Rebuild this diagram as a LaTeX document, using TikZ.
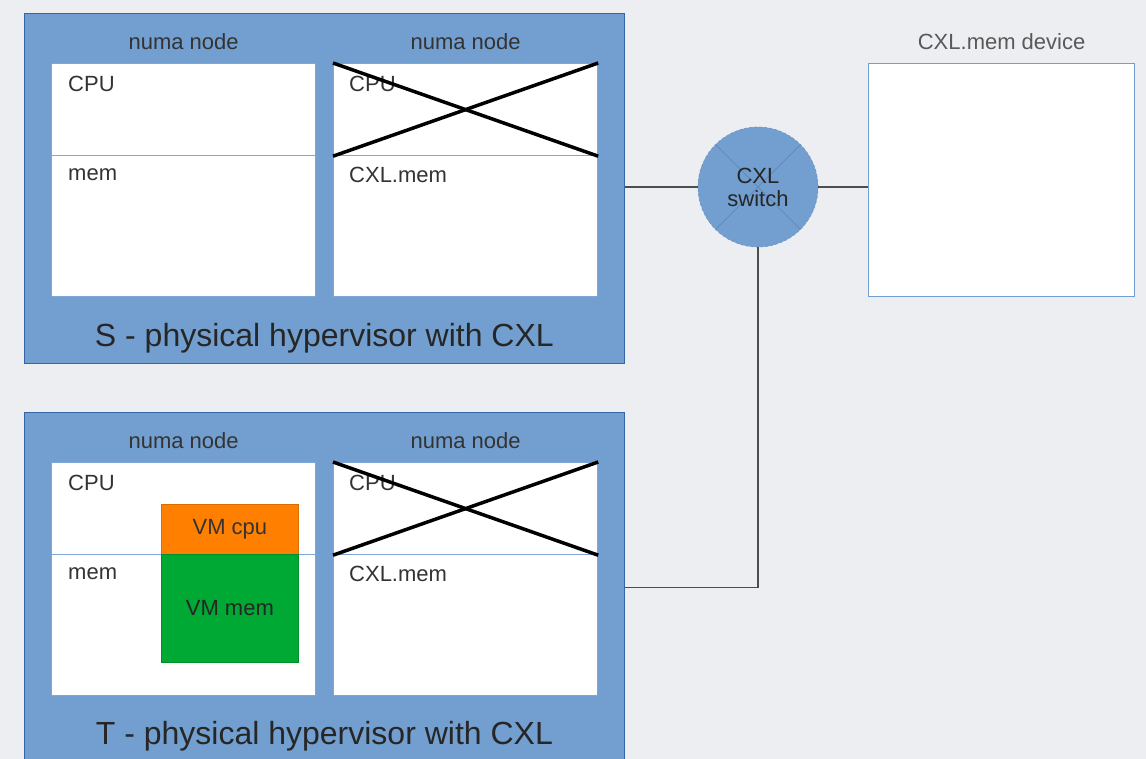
\documentclass[tikz,border=0pt]{standalone}
\usepackage{fontspec}
\setmainfont{Liberation Sans}
\definecolor{bg}{HTML}{ECEEF1}
\definecolor{hostblue}{HTML}{729FCF}
\definecolor{hostedge}{HTML}{3465A4}
\definecolor{numaedge}{HTML}{7FA6D4}
\definecolor{txt}{HTML}{333333}
\definecolor{vmcpu}{HTML}{FF8000}
\definecolor{vmmem}{HTML}{00A933}
\definecolor{wire}{HTML}{4D4D4D}
\begin{document}
\begin{tikzpicture}[x=1pt,y=-1pt,
  host/.style={draw=hostedge, fill=hostblue, line width=0.8pt, anchor=north west, inner sep=0pt, minimum width=600pt},
  part/.style={draw=numaedge, fill=white, line width=1.2pt, anchor=north west, inner sep=0pt, minimum width=264pt},
  lbl/.style={font=\fontsize{22}{25}\selectfont, text=txt, inner sep=0pt},
  ttl/.style={font=\fontsize{32}{36}\selectfont, text=black!85, inner sep=0pt},
  vm/.style={anchor=north west, inner sep=0pt, minimum width=137pt, line width=0.8pt, font=\fontsize{22}{25}\selectfont},
  cross/.style={draw=black, line width=3.5pt},
  wireline/.style={draw=wire, line width=1.8pt}]
\useasboundingbox (0,0) rectangle (1146,759);
\fill[bg] (0,0) rectangle (1146,759);

% ---------- S host ----------
\node[host, minimum height=350pt] (S) at (24,13) {};
\node[part, minimum height=92pt] (SCL) at (51,63) {};
\node[part, minimum height=141pt] (SML) at (51,155) {};
\node[part, minimum height=92pt] (SCR) at (333,63) {};
\node[part, minimum height=141pt] (SMR) at (333,155) {};
\node[lbl] (SNL) at ([yshift=21pt]SCL.north) {numa node};
\node[lbl] (SNR) at ([yshift=21pt]SCR.north) {numa node};
\node[lbl, anchor=west] (Scpu1) at ([xshift=17pt,yshift=-21pt]SCL.north west) {CPU};
\node[lbl, anchor=west] (Smem1) at ([xshift=17pt,yshift=-20pt]SML.north west) {mem};
\node[lbl, anchor=west] (Scpu2) at ([xshift=16pt,yshift=-21pt]SCR.north west) {CPU};
\node[lbl, anchor=west] (Smem2) at ([xshift=16pt,yshift=-20pt]SMR.north west) {CXL.mem};
\draw[cross] (SCR.north west) -- (SCR.south east);
\draw[cross] (SCR.south west) -- (SCR.north east);
\node[ttl] (Stitle) at ([yshift=26pt]S.south) {S - physical hypervisor with CXL};

% ---------- T host ----------
\node[host, minimum height=350pt] (T) at (24,412) {};
\node[part, minimum height=92pt] (TCL) at (51,462) {};
\node[part, minimum height=141pt] (TML) at (51,554) {};
\node[part, minimum height=92pt] (TCR) at (333,462) {};
\node[part, minimum height=141pt] (TMR) at (333,554) {};
\node[lbl] (TNL) at ([yshift=21pt]TCL.north) {numa node};
\node[lbl] (TNR) at ([yshift=21pt]TCR.north) {numa node};
\node[lbl, anchor=west] (Tcpu1) at ([xshift=17pt,yshift=-21pt]TCL.north west) {CPU};
\node[lbl, anchor=west] (Tmem1) at ([xshift=17pt,yshift=-20pt]TML.north west) {mem};
\node[lbl, anchor=west] (Tcpu2) at ([xshift=16pt,yshift=-21pt]TCR.north west) {CPU};
\node[lbl, anchor=west] (Tmem2) at ([xshift=16pt,yshift=-20pt]TMR.north west) {CXL.mem};
\draw[cross] (TCR.north west) -- (TCR.south east);
\draw[cross] (TCR.south west) -- (TCR.north east);
\node[vm, fill=vmcpu, draw=vmcpu!85!black, minimum height=50pt, text=black!80] (VMC) at (161,504) {VM cpu};
\node[vm, fill=vmmem, draw=vmmem!85!black, minimum height=108pt] (VMM) at (161,554) {};
\node[lbl, text=black!85] (VMMl) at ([yshift=-54pt]VMM.north) {VM mem};
\node[ttl] (Ttitle) at ([yshift=27pt]T.south) {T - physical hypervisor with CXL};

% ---------- CXL switch and device ----------
\node[circle, minimum size=120pt, inner sep=0pt, fill=hostblue, draw=hostedge!70, densely dashed, line width=0.6pt,
      path picture={\draw[hostedge!80, solid, line width=0.6pt]
        (path picture bounding box.north west) -- (path picture bounding box.south east)
        (path picture bounding box.south west) -- (path picture bounding box.north east);}] (SW) at (758,187) {};
\node[lbl, align=center, text=black!85] (SWl) at (SW.center) {CXL\\[-2pt]switch};

\node[draw=hostblue, fill=white, line width=1.2pt, anchor=north west, minimum width=266pt, minimum height=233pt, inner sep=0pt] (DEV) at (868,63) {};
\node[lbl, text=black!65] (DEVl) at ([yshift=21pt]DEV.north) {CXL.mem device};

\draw[wireline] (SW.west -| S.east) -- (SW.west);
\draw[wireline] (SW.east) -- (SW.east -| DEV.west);
\draw[wireline] (SW.south) |- (T.east);
\end{tikzpicture}
\end{document}
